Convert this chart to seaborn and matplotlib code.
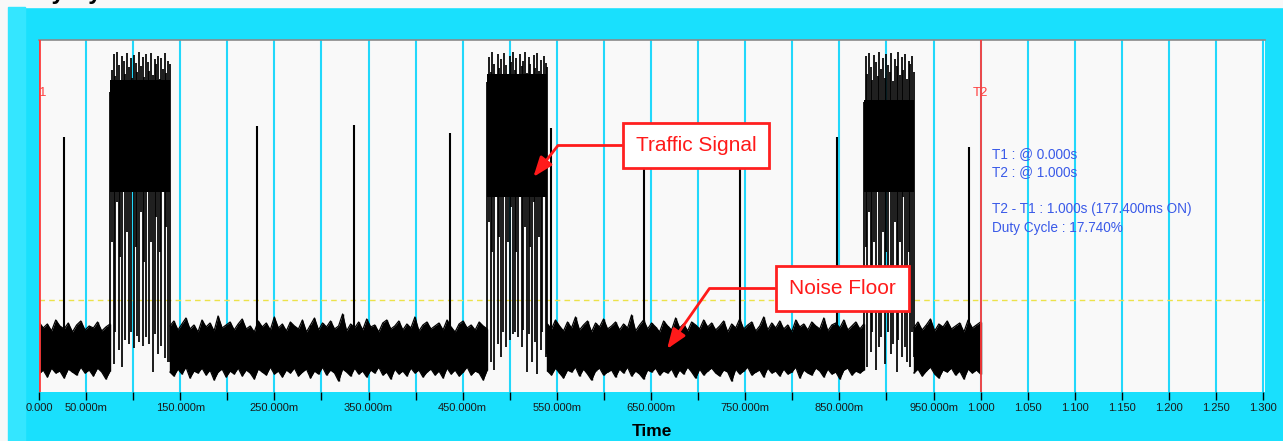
import numpy as np
import pandas as pd
import matplotlib
matplotlib.use("Agg")
import matplotlib.pyplot as plt
import seaborn as sns
from matplotlib.patches import Rectangle

# ---------------- data (levels, arbitrary units) ----------------
tick_pos = [0.00, 0.05, 0.10, 0.15, 0.20, 0.25, 0.30, 0.35, 0.40, 0.45, 0.50, 0.55, 0.60,
            0.65, 0.70, 0.75, 0.80, 0.85, 0.90, 0.95, 1.00, 1.05, 1.10, 1.15, 1.20, 1.25, 1.30]
tick_labels = ["0.000", "50.000m", "", "150.000m", "", "250.000m", "", "350.000m", "",
               "450.000m", "", "550.000m", "", "650.000m", "", "750.000m", "", "850.000m", "",
               "950.000m", "1.000", "1.050", "1.100", "1.150", "1.200", "1.250", "1.300"]

# noise floor segments: [start, end] in seconds, upper and lower envelope
noise1_span = [0.0, 0.0755]
noise1_hi = [70, 64, 68, 61, 72, 66, 63, 69, 60, 67, 71, 62, 66, 64, 70, 61, 65, 68]
noise1_lo = [18, 22, 15, 24, 19, 21, 14, 23, 20, 17, 25, 19, 22, 16, 24, 20, 13, 21]

noise2_span = [0.139, 0.476]
noise2_hi = [66, 71, 62, 68, 74, 63, 67, 60, 72, 65, 69, 61, 76, 64, 67, 70, 62, 68, 73, 63,
             66, 60, 71, 65, 69, 62, 75, 64, 68, 61, 70, 66, 63, 72, 60, 67, 74, 62, 69, 65,
             71, 63, 66, 78, 61, 68, 64, 70, 62, 73, 65, 67, 60, 69, 72, 63, 66, 71, 62, 68,
             64, 75, 61, 67, 70, 63, 66, 69, 62, 72, 65, 60, 68, 71, 64, 67, 62, 70, 66, 63]
noise2_lo = [20, 16, 23, 18, 25, 14, 21, 19, 24, 17, 22, 12, 20, 23, 15, 21, 18, 24, 16, 22,
             19, 13, 23, 20, 17, 25, 18, 21, 15, 22, 19, 24, 16, 20, 23, 14, 21, 18, 25, 17,
             22, 19, 11, 23, 20, 16, 24, 18, 21, 15, 22, 19, 25, 17, 20, 13, 23, 18, 21, 16,
             24, 19, 22, 15, 20, 23, 17, 21, 14, 24, 18, 22, 16, 20, 25, 17, 21, 19, 12, 22]

noise3_span = [0.540, 0.876]
noise3_hi = [68, 63, 72, 66, 61, 70, 64, 75, 62, 67, 71, 60, 69, 65, 73, 63, 66, 70, 62, 68,
             64, 77, 61, 67, 72, 63, 69, 65, 60, 71, 66, 62, 74, 64, 68, 61, 70, 67, 63, 72,
             65, 69, 62, 66, 71, 60, 68, 64, 73, 63, 67, 70, 61, 66, 75, 62, 69, 64, 71, 63,
             67, 60, 72, 65, 68, 62, 70, 66, 63, 74, 61, 67, 69, 64, 72, 62, 66, 70, 63, 68]
noise3_lo = [21, 17, 24, 19, 14, 22, 20, 25, 16, 23, 18, 12, 21, 24, 17, 20, 22, 15, 23, 19,
             25, 16, 21, 18, 13, 22, 20, 24, 17, 21, 19, 23, 15, 22, 18, 25, 20, 14, 23, 17,
             21, 24, 19, 16, 22, 20, 11, 23, 18, 21, 25, 17, 20, 22, 15, 24, 19, 21, 16, 23,
             18, 20, 25, 14, 22, 19, 17, 24, 21, 15, 23, 18, 20, 13, 22, 24, 17, 21, 19, 22]

noise4_span = [0.929, 1.0]
noise4_hi = [64, 70, 62, 67, 73, 61, 68, 65, 71, 63, 66, 69, 60, 72, 64, 67, 70]
noise4_lo = [19, 23, 16, 21, 25, 18, 14, 22, 20, 24, 17, 21, 13, 23, 19, 22, 18]

# traffic bursts: span, solid core, per-stroke tops and bottoms
burst1_span = [0.0755, 0.139]
burst1_core = [200, 312]
burst1_hi = [300, 322, 338, 316, 340, 327, 312, 336, 331, 318, 339, 325, 334, 314, 337, 329, 320, 340,
             326, 335, 315, 338, 330, 321, 339, 317, 333, 328, 336, 313, 334, 323, 339, 319, 331, 328]
burst1_lo = [35, 150, 28, 60, 190, 42, 135, 25, 230, 52, 160, 48, 60, 210, 44, 145, 56, 50,
             180, 46, 130, 55, 240, 48, 150, 20, 58, 175, 38, 140, 46, 200, 34, 165, 30, 30]

burst2_span = [0.476, 0.540]
burst2_core = [195, 318]
burst2_hi = [310, 335, 320, 340, 328, 315, 338, 324, 333, 312, 339, 327, 318, 336, 330, 340, 322, 334,
             316, 338, 326, 331, 340, 319, 335, 328, 313, 337, 324, 339, 321, 332, 317, 336, 329, 325]
burst2_lo = [40, 170, 30, 140, 22, 200, 48, 155, 35, 60, 230, 45, 150, 52, 185, 58, 60, 140,
             55, 210, 45, 62, 165, 20, 58, 145, 30, 190, 50, 18, 155, 42, 60, 220, 35, 38]

burst3_span = [0.876, 0.929]
burst3_core = [200, 292]
burst3_hi = [290, 336, 318, 339, 325, 312, 337, 330, 316, 340, 323, 334, 314, 338, 327,
             320, 339, 311, 333, 326, 340, 317, 335, 322, 338, 313, 331, 328, 336, 320]
burst3_lo = [30, 145, 25, 180, 40, 60, 150, 22, 205, 45, 55, 160, 28, 140, 60,
             230, 38, 48, 170, 20, 52, 150, 35, 195, 45, 30, 140, 25, 60, 35]

# isolated spikes
spike_t = [0.0266, 0.232, 0.334, 0.437, 0.544, 0.642, 0.744, 0.847, 0.988]
spike_top = [255, 266, 267, 259, 264, 265, 265, 255, 245]

threshold = 92
t1, t2 = 0.0, 1.0
on_ms = 177.4
duty = 17.74

# ---------------- styling ----------------
CYAN = "#19e0fd"
sns.set_theme(style="white")
plt.rcParams["font.family"] = ["Liberation Sans", "DejaVu Sans"]

fig = plt.figure(figsize=(12.83, 4.41), dpi=100, facecolor=CYAN)
W, H = 1283, 441
fig.add_artist(Rectangle((0, 1 - 7 / H), 1, 7 / H, transform=fig.transFigure,
                         color="#f8f8f8", zorder=-5))
fig.add_artist(Rectangle((0, 0), 8 / W, 1, transform=fig.transFigure,
                         color="#f8f8f8", zorder=-5))
fig.add_artist(Rectangle((8 / W, 0), 17 / W, 1 - 7 / H, transform=fig.transFigure,
                         color="#34e6ff", zorder=-5))
fig.text(12 / W, 1 + 1 / H, "Duty Cycle", fontsize=17, weight="bold",
         va="baseline", ha="left", color="black")

ax = fig.add_axes([39 / W, 49 / H, (1265 - 39) / W, 352 / H])
ax.set_facecolor("#f9f9f9")

# grid
ax.set_xticks(tick_pos)
ax.set_xticklabels(tick_labels)
ax.grid(axis="x", color="#22d8fb", lw=1.5)
ax.grid(axis="y", visible=False)
ax.set_axisbelow(True)

# noise floor
for span, hi, lo in [(noise1_span, noise1_hi, noise1_lo), (noise2_span, noise2_hi, noise2_lo),
                     (noise3_span, noise3_hi, noise3_lo), (noise4_span, noise4_hi, noise4_lo)]:
    t = np.linspace(span[0], span[1], len(hi))
    ax.fill_between(t, lo, hi, color="black", lw=0, zorder=2)
    df = pd.DataFrame({"t": np.concatenate([t, t]), "v": hi + lo,
                       "edge": ["hi"] * len(hi) + ["lo"] * len(lo)})
    sns.lineplot(data=df, x="t", y="v", units="edge", estimator=None, sort=False,
                 color="black", lw=0.9, ax=ax, zorder=2, legend=False)
    ax.vlines(t, lo, hi, color="black", lw=1.0, zorder=2)

# bursts
for span, core, hi, lo in [(burst1_span, burst1_core, burst1_hi, burst1_lo),
                           (burst2_span, burst2_core, burst2_hi, burst2_lo),
                           (burst3_span, burst3_core, burst3_hi, burst3_lo)]:
    t = np.linspace(span[0], span[1], len(hi))
    ax.fill_between(span, [core[0]] * 2, [core[1]] * 2, color="black", lw=0, zorder=2)
    ax.vlines(t, lo, hi, color="black", lw=1.25, zorder=2)

# spikes
ax.vlines(spike_t, 40, spike_top, color="black", lw=1.5, zorder=2)

# threshold and cursors
ax.axhline(threshold, color="#ece24a", lw=1.0, ls=(0, (4, 3)), zorder=1.5)
ax.axvline(t1, color="#ff3b3b", lw=2, zorder=3)
ax.axvline(t2, color="#ff3b3b", lw=1.3, zorder=3)
ax.text(t1 + 0.0085, 299, "T1", color="#ff4040", fontsize=9.5, ha="right", va="center",
        clip_on=True, zorder=4)
ax.text(t2, 299, "T2", color="#ff4040", fontsize=9.5, ha="center", va="center", zorder=4)

info = (f"T1 : @ {t1:.3f}s\nT2 : @ {t2:.3f}s\n\n"
        f"T2 - T1 : {t2 - t1:.3f}s ({on_ms:.3f}ms ON)\nDuty Cycle : {duty:.3f}%")
ax.text(1.0125, 245, info, color="#3a5ae8", fontsize=9.8, ha="left", va="top",
        linespacing=1.4, zorder=4)

# callouts
box = dict(boxstyle="square,pad=0.62", fc="white", ec="#ff2020", lw=2)
arrow = "-|>,head_length=0.8,head_width=0.3"
ax.annotate("Traffic Signal", xy=(0.525, 215), xytext=(0.698, 246.5), textcoords="data",
            ha="center", va="center", fontsize=15, color="#ff1a1a", bbox=box, zorder=6,
            arrowprops=dict(arrowstyle=arrow, color="#ff1a1a",
                            lw=2, connectionstyle="angle,angleA=180,angleB=52,rad=0",
                            shrinkA=0, shrinkB=0))
ax.annotate("Noise Floor", xy=(0.667, 43), xytext=(0.853, 103.5), textcoords="data",
            ha="center", va="center", fontsize=15, color="#ff1a1a", bbox=box, zorder=6,
            arrowprops=dict(arrowstyle=arrow, color="#ff1a1a",
                            lw=2, connectionstyle="angle,angleA=180,angleB=55,rad=0",
                            shrinkA=0, shrinkB=0))

# axes cosmetics
ax.set_xlim(0, 1.302)
ax.set_ylim(0, 352)
ax.set_yticks([])
ax.set_ylabel("")
for side in ["left", "right", "bottom"]:
    ax.spines[side].set_visible(False)
ax.spines["top"].set_color("#8a8a8a")
ax.spines["top"].set_linewidth(1.2)
ax.tick_params(axis="x", bottom=True, direction="out", length=6, width=1, color="black",
               labelsize=8, pad=2, labelcolor="#1a1a1a")
ax.set_xlabel("Time", fontsize=12.5, weight="bold", color="black", va="center")
ax.xaxis.set_label_coords(0.5, -(431 - 392) / 352)

fig.savefig("out.png", dpi=100, facecolor=fig.get_facecolor())
